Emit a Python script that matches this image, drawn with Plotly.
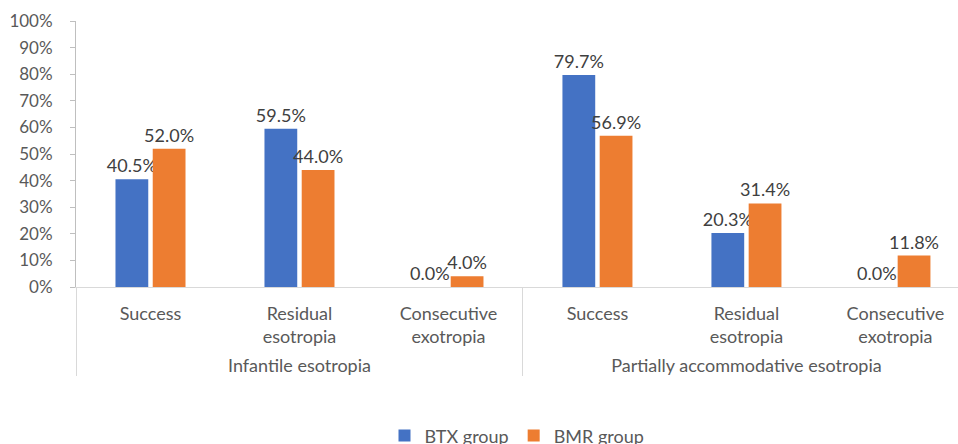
import plotly.graph_objects as go

groups = ["Infantile esotropia"] * 3 + ["Partially accommodative esotropia"] * 3
outcomes = ["Success", "Residual<br>esotropia", "Consecutive<br>exotropia"] * 2
btx = [0.405, 0.595, 0.0, 0.797, 0.203, 0.0]
bmr = [0.520, 0.440, 0.040, 0.569, 0.314, 0.118]

FONT = "Lato"
fig = go.Figure()
for name, vals, col in [("BTX group", btx, "#4472C4"), ("BMR group", bmr, "#ED7D31")]:
    fig.add_trace(go.Bar(
        x=[groups, [o + "<br><sup> </sup>" for o in outcomes]], y=vals,
        name=name, marker_color=col, marker_line_width=0,
        text=[f"{v*100:.1f}%" for v in vals],
        textposition="outside", constraintext="none",
        textfont=dict(size=18, color="#404040", family=FONT),
        cliponaxis=False,
    ))

fig.update_layout(
    width=958, height=444,
    margin=dict(l=76, r=0, t=21, b=157, autoexpand=False),
    paper_bgcolor="white", plot_bgcolor="white",
    barmode="group", bargap=0.5, bargroupgap=0.12,
    font=dict(family=FONT, size=18, color="#595959"),
    showlegend=True,
    legend=dict(orientation="h", x=0.5, xanchor="center", y=-0.49, yanchor="top",
                font=dict(size=18, color="#595959"), itemwidth=30,
                traceorder="normal"),
)
fig.update_xaxes(
    type="multicategory", range=[-0.5, 5.42], automargin=False,
    showline=True, linecolor="#D9D9D9", linewidth=1,
    showdividers=True, dividercolor="#D9D9D9", dividerwidth=1,
    tickfont=dict(size=18, color="#595959"), ticks="", ticklabelstandoff=10,
)
fig.update_yaxes(
    range=[0, 1], dtick=0.1, tickformat=".0%", showgrid=False, zeroline=False,
    automargin=False,
    showline=True, linecolor="#BFBFBF", linewidth=1, ticks="outside", ticklen=5,
    tickcolor="#BFBFBF", tickfont=dict(size=17, color="#595959"),
    ticklabelstandoff=14,
)
fig.write_html(
    "out.html",
    config={"displayModeBar": False},
    post_script="document.body.style.margin='0';document.body.style.overflow='hidden';",
)
